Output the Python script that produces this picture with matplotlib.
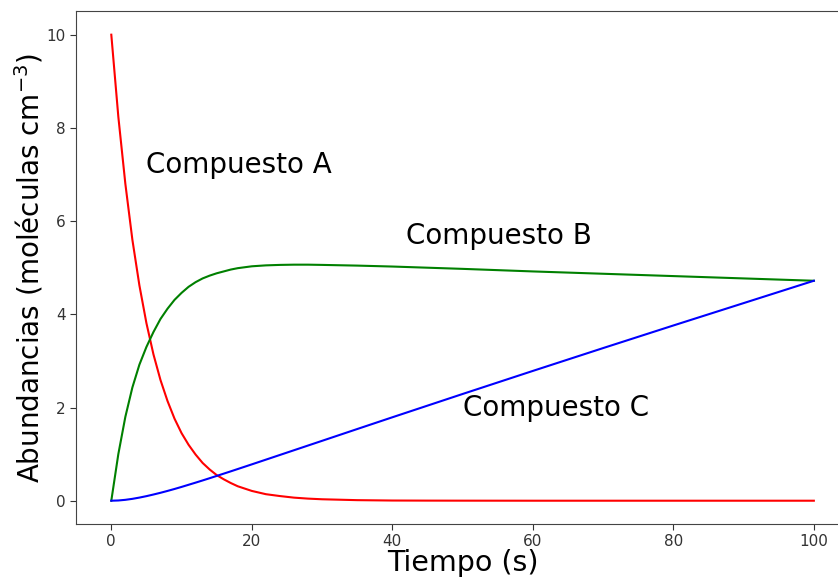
import matplotlib
matplotlib.use('Agg')
import matplotlib.pyplot as plt

# time (s)
tiempo = [0, 1, 2, 3, 4, 5, 6, 7, 8, 9, 10, 11, 12, 13, 14, 15, 16, 17, 18, 19, 20,
          22, 24, 26, 28, 30, 35, 40, 45, 50, 60, 70, 80, 90, 100]

# abundances
comp_a = [10.0, 8.24, 6.80, 5.60, 4.62, 3.81, 3.14, 2.59, 2.14, 1.76, 1.45, 1.20, 0.99,
          0.81, 0.67, 0.55, 0.46, 0.38, 0.31, 0.26, 0.21,
          0.14, 0.10, 0.066, 0.045, 0.031, 0.012, 0.004, 0.002, 0.001, 0.0, 0.0, 0.0, 0.0, 0.0]
comp_b = [0.0, 1.0, 1.8, 2.43, 2.92, 3.30, 3.62, 3.90, 4.12, 4.31, 4.46, 4.59, 4.69,
          4.77, 4.83, 4.88, 4.92, 4.96, 4.99, 5.01, 5.03,
          5.05, 5.06, 5.065, 5.065, 5.06, 5.045, 5.025, 5.0, 4.975, 4.92, 4.87, 4.82, 4.77, 4.72]
comp_c = [0.0, 0.005, 0.019, 0.040, 0.067, 0.098, 0.133, 0.170, 0.210, 0.252, 0.296, 0.342,
          0.388, 0.435, 0.483, 0.532, 0.581, 0.630, 0.680, 0.730, 0.780,
          0.881, 0.982, 1.083, 1.184, 1.285, 1.538, 1.790, 2.04, 2.290, 2.785, 3.275, 3.76, 4.24, 4.72]

fig = plt.figure(figsize=(8.38, 5.78), dpi=100)
ax = fig.add_axes([0.0909, 0.0934, 0.9222, 0.8869])

ax.plot(tiempo, comp_a, color='red', lw=1.5)
ax.plot(tiempo, comp_b, color='green', lw=1.5)
ax.plot(tiempo, comp_c, color='blue', lw=1.5)

# labels next to the curves
ax.text(5, 7.03, 'Compuesto A', fontsize=20)
ax.text(42, 5.5, 'Compuesto B', fontsize=20)
ax.text(50, 1.82, 'Compuesto C', fontsize=20)

ax.set_xlim(-5, 105)
ax.set_ylim(-0.5, 10.5)
ax.set_xticks([0, 20, 40, 60, 80, 100])
ax.set_yticks([0, 2, 4, 6, 8, 10])
ax.tick_params(labelsize=11, length=4, colors='#333333')
for s in ax.spines.values():
    s.set_color('#444444')

ax.set_xlabel('Tiempo (s)', fontsize=20.5, labelpad=0)
ax.set_ylabel('Abundancias (moléculas cm$^{-3}$)', fontsize=20, labelpad=1)

plt.savefig('out.png', dpi=100)
plt.close('all')
